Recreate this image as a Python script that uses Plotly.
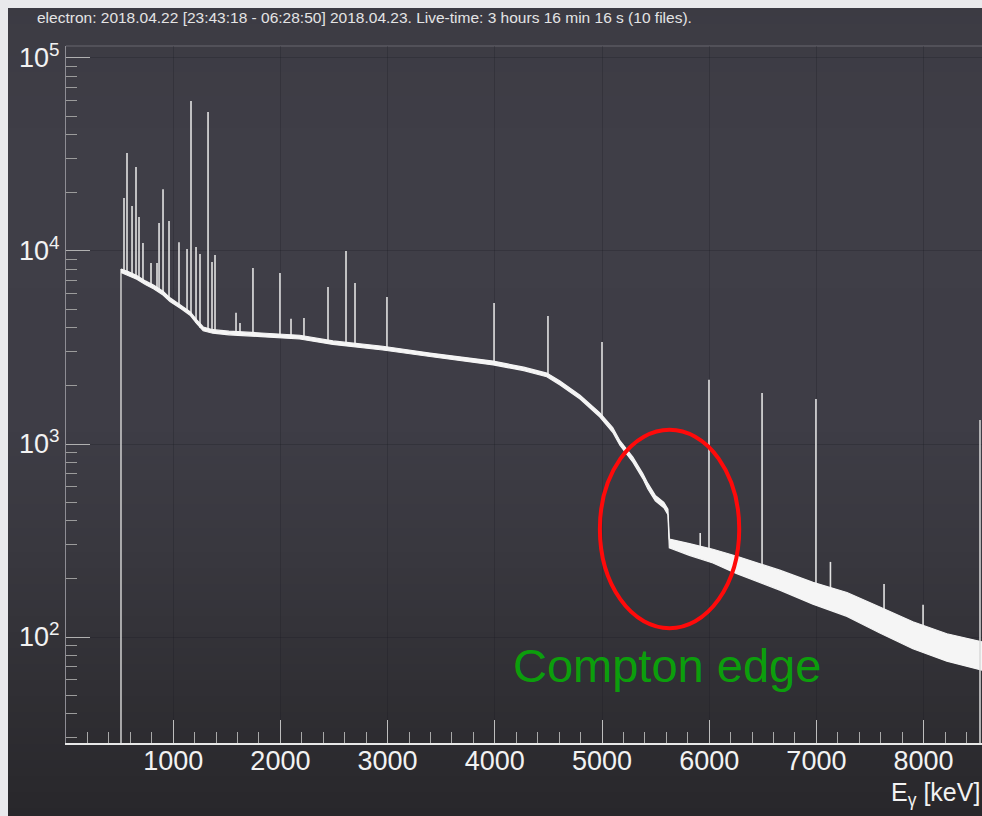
import plotly.graph_objects as go

# ---------------- data ----------------
threshold_keV = 513
floor_count = 1

cont_keV = [513, 580, 660, 740, 820, 905, 970, 1070, 1157, 1220, 1280, 1370, 1520, 1820,
            2180, 2490, 2955, 3395, 3610, 3985, 4270, 4485, 4608, 4795, 4980, 5100, 5167,
            5288, 5382, 5428, 5497, 5577, 5615, 5628, 5815, 6035, 6258, 6658, 6968, 7285,
            7592, 7900, 8217, 8560]
cont_high = [8070, 7820, 7460, 7000, 6640, 6180, 5720, 5260, 4850, 4390, 4040, 3910, 3840, 3760,
             3660, 3420, 3210, 2960, 2850, 2690, 2500, 2330, 2120, 1790, 1450, 1215, 1040,
             855, 700, 625, 542, 498, 460, 322, 305, 285, 262, 222, 192, 170,
             143, 120, 104, 94]
cont_low = [7730, 7480, 7140, 6700, 6360, 5920, 5480, 5040, 4650, 4210, 3860, 3750, 3680, 3600,
            3500, 3280, 3070, 2840, 2730, 2570, 2400, 2230, 2020, 1710, 1380, 1150, 985,
            805, 660, 585, 508, 468, 430, 290, 265, 242, 213, 175, 148, 128,
            105, 87, 75, 67]

peak_keV = [541, 569, 616, 653, 681, 718, 793, 849, 868, 905, 961, 1054, 1129, 1166, 1213,
            1250, 1325, 1362, 1390, 1586, 1623, 1744, 1996, 2099, 2220, 2444, 2612, 2696,
            2994, 3993, 4496, 5000, 5916, 5998, 6493, 6996, 7131, 7631, 7995]
peak_top = [18800, 32200, 17100, 27200, 15000, 11000, 8670, 8670, 13960, 20900, 14300, 11100,
            10240, 59900, 10500, 9640, 52500, 8770, 9530, 4780, 4240, 8170, 7690, 4450, 4500,
            6500, 10000, 6830, 5780, 5380, 4600, 3380, 346, 2150, 1840, 1710, 245, 188, 147]
peak_base = [7700, 7600, 7350, 7150, 7050, 6900, 6550, 6300, 6200, 6000, 5600, 5150, 4800,
             4600, 4250, 4000, 3880, 3840, 3820, 3740, 3730, 3700, 3630, 3600, 3550, 3380,
             3290, 3240, 3120, 2620, 2260, 1380, 285, 265, 210, 168, 160, 118, 97]

x_ticks = [1000, 2000, 3000, 4000, 5000, 6000, 7000, 8000]
x_tick_labels = [str(v) for v in x_ticks]
y_ticks = [1e2, 1e3, 1e4, 1e5]
y_tick_labels = ["10<sup>2</sup>", "10<sup>3</sup>", "10<sup>4</sup>", "10<sup>5</sup>"]

title_text = ("electron: 2018.04.22 [23:43:18 - 06:28:50] 2018.04.23. "
              "Live-time: 3 hours 16 min 16 s (10 files).")
edge_label = "Compton edge"
edge_region_keV = [4980, 6280]
edge_region_counts = [111, 1184]

# ---------------- figure ----------------
# the page body keeps an 8 px margin at left/top (gives the light strip of the slide)
BODY = 8
W, H = 982 - BODY, 816 - BODY
REF_L, REF_R, REF_T, REF_B = 66, 982, 46, 743       # plot frame in window pixels
ML, MR = REF_L - BODY, 982 - REF_R
MT, MB = REF_T - BODY, 816 - REF_B
PW, PH = REF_R - REF_L, REF_B - REF_T

SANS = "Liberation Sans, Arial, Helvetica, sans-serif"

def px_x(p):          # window pixel -> paper x
    return (p - REF_L) / PW

def px_y(p):          # window pixel -> paper y
    return (REF_B - p) / PH

fig = go.Figure()

# peaks
px, py = [], []
for e, b, t in zip(peak_keV, peak_base, peak_top):
    px += [e, e, None]
    py += [b, t, None]
fig.add_trace(go.Scatter(x=px, y=py, mode="lines",
                         line=dict(color="#e2e2e2", width=1.6),
                         hoverinfo="skip", showlegend=False))

# threshold edge of the histogram
fig.add_trace(go.Scatter(x=[threshold_keV, threshold_keV], y=[floor_count, cont_high[0]],
                         mode="lines", line=dict(color="#d0d0d0", width=1.5),
                         hoverinfo="skip", showlegend=False))

# continuum band
fig.add_trace(go.Scatter(x=cont_keV, y=cont_high, mode="lines",
                         line=dict(color="#f5f5f5", width=1.2),
                         hoverinfo="skip", showlegend=False))
fig.add_trace(go.Scatter(x=cont_keV, y=cont_low, mode="lines", fill="tonexty",
                         fillcolor="#f5f5f5",
                         line=dict(color="#f5f5f5", width=1.2),
                         hoverinfo="skip", showlegend=False))

shapes = []
# background gradient
stops = [(0, (60, 59, 67)), (150, (63, 62, 71)), (420, (62, 61, 70)),
         (560, (56, 55, 62)), (700, (47, 46, 51)), (816, (40, 39, 43))]

def col_at(p):
    for (p0, c0), (p1, c1) in zip(stops[:-1], stops[1:]):
        if p0 <= p <= p1:
            f = (p - p0) / (p1 - p0)
            return "rgb(%d,%d,%d)" % tuple(round(a + (b - a) * f) for a, b in zip(c0, c1))
    return "rgb(%d,%d,%d)" % stops[-1][1]

step = 8
for p in range(BODY, 816, step):
    shapes.append(dict(type="rect", xref="paper", yref="paper", layer="below",
                       x0=px_x(BODY), x1=px_x(982), y0=px_y(p + step + 1), y1=px_y(p),
                       fillcolor=col_at(p + step / 2), line=dict(width=0)))
# top frame line
shapes.append(dict(type="line", xref="paper", yref="paper", x0=0, x1=1, y0=1, y1=1,
                   line=dict(color="#5a5960", width=1.5), layer="below"))
# right partial frame line
shapes.append(dict(type="line", xref="paper", yref="paper", x0=px_x(980), x1=px_x(980),
                   y0=0, y1=px_y(420), line=dict(color="#d8d8d8", width=1.5)))
# red ellipse around Compton edge
shapes.append(dict(type="circle", xref="x", yref="y",
                   x0=edge_region_keV[0], x1=edge_region_keV[1],
                   y0=edge_region_counts[0], y1=edge_region_counts[1],
                   line=dict(color="#ff0a0a", width=4)))

annotations = [
    dict(text=title_text, xref="paper", yref="paper", x=px_x(35), y=px_y(18),
         xanchor="left", yanchor="middle", showarrow=False,
         font=dict(family=SANS, size=15.5, color="#e4e4e4")),
    dict(text=edge_label, xref="x", yref="paper", x=5606, y=px_y(665),
         xanchor="center", yanchor="middle", showarrow=False,
         font=dict(family=SANS, size=47, color="#0c9e0c")),
    dict(text="E<sub>γ</sub> [keV]", xref="paper", yref="paper", x=1.0, y=px_y(776),
         xanchor="right", yanchor="top", showarrow=False,
         font=dict(family=SANS, size=25, color="#f2f2f2")),
]

minor_y = [m * 10 ** d for d in range(1, 5) for m in range(2, 10)]

fig.update_layout(
    width=W, height=H,
    margin=dict(l=ML, r=MR, t=MT, b=MB, pad=0),
    paper_bgcolor="rgba(0,0,0,0)",
    plot_bgcolor="rgba(0,0,0,0)",
    shapes=shapes, annotations=annotations,
    showlegend=False,
    xaxis=dict(range=[0, PW / 107.2 * 1000], tickvals=x_ticks, ticktext=x_tick_labels,
               ticks="inside", ticklen=23, tickwidth=1.2, tickcolor="#bdbdbd",
               minor=dict(dtick=200, ticks="inside", ticklen=11, tickcolor="#a8a8a8",
                          showgrid=False),
               showgrid=True, gridcolor="rgba(25,24,30,0.25)", gridwidth=1,
               showline=True, linecolor="#e8e8e8", linewidth=2,
               ticklabelstandoff=-7,
               tickfont=dict(family=SANS, size=27, color="#f2f2f2"),
               zeroline=False, fixedrange=True),
    yaxis=dict(type="log", range=[1.451, 5.062], tickvals=y_ticks, ticktext=y_tick_labels,
               ticks="inside", ticklen=24, tickwidth=1.2, tickcolor="#b0b0b0",
               minor=dict(tickvals=minor_y, ticks="inside", ticklen=11, tickcolor="#9c9c9c",
                          showgrid=False),
               showgrid=True, gridcolor="rgba(25,24,30,0.25)", gridwidth=1,
               showline=True, linecolor="#8e8d94", linewidth=1.2,
               tickfont=dict(family=SANS, size=27, color="#f2f2f2"),
               zeroline=False, fixedrange=True),
)

fig.write_html(
    "out.html",
    post_script=("document.body.style.backgroundColor='#e9e9ec';"
                 "document.body.style.margin='8px 0 0 8px';"
                 "document.body.style.overflow='hidden';"
                 "document.documentElement.style.overflow='hidden';"),
)
